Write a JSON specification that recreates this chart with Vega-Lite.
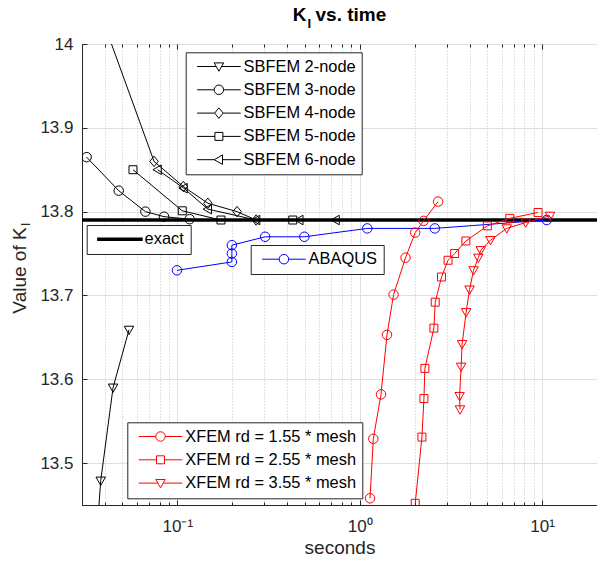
{
  "$schema": "https://vega.github.io/schema/vega-lite/v6.json",
  "width": 515,
  "height": 461,
  "autosize": {"type": "none"},
  "padding": {"left": 82, "top": 44, "right": 0, "bottom": 60},
  "background": "white",
  "title": {
    "text": "K\u2009 vs. time",
    "font": "Liberation Sans",
    "fontSize": 19,
    "fontWeight": "bold",
    "color": "black",
    "anchor": "middle",
    "offset": -8
  },
  "config": {
    "font": "Liberation Sans",
    "view": {"stroke": "#262626", "strokeWidth": 1},
    "axis": {
      "labelFont": "Liberation Sans",
      "titleFont": "Liberation Sans",
      "labelColor": "#262626",
      "titleColor": "#262626",
      "domainColor": "#262626",
      "tickColor": "#262626",
      "labelFontSize": 17,
      "titleFontSize": 19,
      "titleFontWeight": "normal",
      "gridColor": "#dfdfdf",
      "gridWidth": 1,
      "domainWidth": 1,
      "tickWidth": 1
    },
    "legend": {
      "labelFont": "Liberation Sans",
      "labelFontSize": 16.4,
      "labelColor": "black",
      "labelLimit": 400,
      "strokeColor": "#262626",
      "fillColor": "white",
      "padding": 6,
      "rowPadding": 6.3,
      "symbolSize": 90,
      "symbolFillColor": "transparent",
      "symbolOpacity": 1,
      "symbolOffset": 19,
      "labelOffset": 16.5
    }
  },
  "datasets": {
    "exact": [
      {"s": "exact", "t": 0.03, "k": 13.79, "o": 0},
      {"s": "exact", "t": 20, "k": 13.79, "o": 1}
    ],
    "sbfem": [
      {"s": "SBFEM 2-node", "t": 0.036, "k": 13.408, "o": 0},
      {"s": "SBFEM 2-node", "t": 0.038, "k": 13.479, "o": 1},
      {"s": "SBFEM 2-node", "t": 0.0444, "k": 13.59, "o": 2},
      {"s": "SBFEM 2-node", "t": 0.0543, "k": 13.659, "o": 3},
      {"s": "SBFEM 3-node", "t": 0.0318, "k": 13.865, "o": 0},
      {"s": "SBFEM 3-node", "t": 0.0477, "k": 13.825, "o": 1},
      {"s": "SBFEM 3-node", "t": 0.0668, "k": 13.8, "o": 2},
      {"s": "SBFEM 3-node", "t": 0.0845, "k": 13.794, "o": 3},
      {"s": "SBFEM 3-node", "t": 0.1168, "k": 13.791, "o": 4},
      {"s": "SBFEM 4-node", "t": 0.04, "k": 14.022, "o": 0},
      {"s": "SBFEM 4-node", "t": 0.0745, "k": 13.86, "o": 1},
      {"s": "SBFEM 4-node", "t": 0.1078, "k": 13.83, "o": 2},
      {"s": "SBFEM 4-node", "t": 0.147, "k": 13.81, "o": 3},
      {"s": "SBFEM 4-node", "t": 0.2125, "k": 13.8, "o": 4},
      {"s": "SBFEM 4-node", "t": 0.2706, "k": 13.79, "o": 5},
      {"s": "SBFEM 5-node", "t": 0.0571, "k": 13.85, "o": 0},
      {"s": "SBFEM 5-node", "t": 0.1064, "k": 13.801, "o": 1},
      {"s": "SBFEM 5-node", "t": 0.1734, "k": 13.79, "o": 2},
      {"s": "SBFEM 5-node", "t": 0.4295, "k": 13.79, "o": 3},
      {"s": "SBFEM 6-node", "t": 0.078, "k": 13.85, "o": 0},
      {"s": "SBFEM 6-node", "t": 0.1083, "k": 13.828, "o": 1},
      {"s": "SBFEM 6-node", "t": 0.147, "k": 13.803, "o": 2},
      {"s": "SBFEM 6-node", "t": 0.2706, "k": 13.79, "o": 3},
      {"s": "SBFEM 6-node", "t": 0.467, "k": 13.79, "o": 4},
      {"s": "SBFEM 6-node", "t": 0.738, "k": 13.79, "o": 5}
    ],
    "abaqus": [
      {"s": "ABAQUS", "t": 0.0995, "k": 13.73, "o": 0},
      {"s": "ABAQUS", "t": 0.199, "k": 13.74, "o": 1},
      {"s": "ABAQUS", "t": 0.199, "k": 13.75, "o": 2},
      {"s": "ABAQUS", "t": 0.199, "k": 13.76, "o": 3},
      {"s": "ABAQUS", "t": 0.303, "k": 13.77, "o": 4},
      {"s": "ABAQUS", "t": 0.497, "k": 13.77, "o": 5},
      {"s": "ABAQUS", "t": 1.1, "k": 13.78, "o": 6},
      {"s": "ABAQUS", "t": 2.58, "k": 13.78, "o": 7},
      {"s": "ABAQUS", "t": 10.6, "k": 13.79, "o": 8}
    ],
    "xfem": [
      {"s": "XFEM rd = 1.55 * mesh", "t": 1.139, "k": 13.458, "o": 0},
      {"s": "XFEM rd = 1.55 * mesh", "t": 1.187, "k": 13.529, "o": 1},
      {"s": "XFEM rd = 1.55 * mesh", "t": 1.308, "k": 13.582, "o": 2},
      {"s": "XFEM rd = 1.55 * mesh", "t": 1.411, "k": 13.653, "o": 3},
      {"s": "XFEM rd = 1.55 * mesh", "t": 1.533, "k": 13.701, "o": 4},
      {"s": "XFEM rd = 1.55 * mesh", "t": 1.783, "k": 13.745, "o": 5},
      {"s": "XFEM rd = 1.55 * mesh", "t": 2.015, "k": 13.775, "o": 6},
      {"s": "XFEM rd = 1.55 * mesh", "t": 2.24, "k": 13.789, "o": 7},
      {"s": "XFEM rd = 1.55 * mesh", "t": 2.69, "k": 13.812, "o": 8},
      {"s": "XFEM rd = 2.55 * mesh", "t": 2.015, "k": 13.452, "o": 0},
      {"s": "XFEM rd = 2.55 * mesh", "t": 2.193, "k": 13.531, "o": 1},
      {"s": "XFEM rd = 2.55 * mesh", "t": 2.249, "k": 13.577, "o": 2},
      {"s": "XFEM rd = 2.55 * mesh", "t": 2.277, "k": 13.613, "o": 3},
      {"s": "XFEM rd = 2.55 * mesh", "t": 2.551, "k": 13.661, "o": 4},
      {"s": "XFEM rd = 2.55 * mesh", "t": 2.594, "k": 13.692, "o": 5},
      {"s": "XFEM rd = 2.55 * mesh", "t": 2.808, "k": 13.722, "o": 6},
      {"s": "XFEM rd = 2.55 * mesh", "t": 3.05, "k": 13.742, "o": 7},
      {"s": "XFEM rd = 2.55 * mesh", "t": 3.316, "k": 13.75, "o": 8},
      {"s": "XFEM rd = 2.55 * mesh", "t": 3.82, "k": 13.765, "o": 9},
      {"s": "XFEM rd = 2.55 * mesh", "t": 5.01, "k": 13.783, "o": 10},
      {"s": "XFEM rd = 2.55 * mesh", "t": 6.65, "k": 13.792, "o": 11},
      {"s": "XFEM rd = 2.55 * mesh", "t": 9.5, "k": 13.799, "o": 12},
      {"s": "XFEM rd = 3.55 * mesh", "t": 3.545, "k": 13.564, "o": 0},
      {"s": "XFEM rd = 3.55 * mesh", "t": 3.53, "k": 13.58, "o": 1},
      {"s": "XFEM rd = 3.55 * mesh", "t": 3.597, "k": 13.615, "o": 2},
      {"s": "XFEM rd = 3.55 * mesh", "t": 3.643, "k": 13.642, "o": 3},
      {"s": "XFEM rd = 3.55 * mesh", "t": 3.833, "k": 13.68, "o": 4},
      {"s": "XFEM rd = 3.55 * mesh", "t": 4.0, "k": 13.707, "o": 5},
      {"s": "XFEM rd = 3.55 * mesh", "t": 4.21, "k": 13.73, "o": 6},
      {"s": "XFEM rd = 3.55 * mesh", "t": 4.47, "k": 13.745, "o": 7},
      {"s": "XFEM rd = 3.55 * mesh", "t": 4.61, "k": 13.754, "o": 8},
      {"s": "XFEM rd = 3.55 * mesh", "t": 5.21, "k": 13.766, "o": 9},
      {"s": "XFEM rd = 3.55 * mesh", "t": 6.4, "k": 13.78, "o": 10},
      {"s": "XFEM rd = 3.55 * mesh", "t": 8.13, "k": 13.787, "o": 11},
      {"s": "XFEM rd = 3.55 * mesh", "t": 11.05, "k": 13.795, "o": 12}
    ]
  },
  "resolve": {
    "scale": {"shape": "independent"},
    "axis": {"x": "independent", "y": "independent"},
    "legend": {"shape": "independent"}
  },
  "layer": [
    {
      "data": {"name": "exact"},
      "mark": {"type": "line", "color": "black", "strokeWidth": 3.5, "clip": true},
      "encoding": {
        "x": {"field": "t", "type": "quantitative", "scale": {"type": "log", "domain": [0.03, 20], "nice": false},
          "axis": {"orient": "bottom", "values": [0.1, 1, 10],
            "labelExpr": "datum.value < 0.5 ? '10\u207b\u00b9' : (datum.value < 5 ? '10\u2070' : '10\u00b9')",
            "grid": true, "tickSize": -5, "labelPadding": 18, "title": "seconds", "titlePadding": 4}},
        "y": {"field": "k", "type": "quantitative", "scale": {"domain": [13.45, 14], "nice": false, "zero": false},
          "axis": {"orient": "left", "values": [13.5, 13.6, 13.7, 13.8, 13.9, 14], "format": ".1~f",
            "grid": true, "tickSize": -5, "labelPadding": 14,
            "title": "Value of K", "titleX": -57, "titleY": 226, "titleAngle": -90, "titleAlign": "center", "titleBaseline": "alphabetic"}},
        "order": {"field": "o"}
      }
    },
    {
      "data": {"name": "sbfem"},
      "mark": {"type": "line", "color": "black", "strokeWidth": 1, "clip": true},
      "encoding": {
        "x": {"field": "t", "type": "quantitative", "scale": {"type": "log", "domain": [0.03, 20], "nice": false},
          "axis": {"orient": "bottom", "values": [0.03, 0.04, 0.05, 0.06, 0.07, 0.08, 0.09, 0.2, 0.3, 0.4, 0.5, 0.6, 0.7, 0.8, 0.9, 2, 3, 4, 5, 6, 7, 8, 9, 20],
            "labels": false, "grid": true, "gridDash": [1, 2], "gridColor": "#c4c4c4", "tickSize": -3, "domain": false, "title": null}},
        "y": {"field": "k", "type": "quantitative", "scale": {"domain": [13.45, 14], "nice": false, "zero": false}, "axis": null},
        "detail": {"field": "s"},
        "order": {"field": "o"}
      }
    },
    {
      "data": {"name": "sbfem"},
      "mark": {"type": "point", "filled": false, "color": "black", "strokeWidth": 1, "size": 90, "opacity": 1, "clip": true},
      "encoding": {
        "x": {"field": "t", "type": "quantitative", "scale": {"type": "log", "domain": [0.03, 20], "nice": false}, "axis": null},
        "y": {"field": "k", "type": "quantitative", "scale": {"domain": [13.45, 14], "nice": false, "zero": false}, "axis": null},
        "shape": {"field": "s", "type": "nominal", "legend": null,
          "scale": {"domain": ["SBFEM 2-node", "SBFEM 3-node", "SBFEM 4-node", "SBFEM 5-node", "SBFEM 6-node"],
            "range": ["M-1,-0.76L1,-0.76L0,1Z", "M1,0A1,1,0,1,1,-1,0A1,1,0,1,1,1,0Z", "M0,-1.1L0.9,0L0,1.1L-0.9,0Z", "M-0.84,-0.84H0.84V0.84H-0.84Z", "M-1,0L0.76,-1L0.76,1Z"]}}
      }
    },
    {
      "data": {"name": "abaqus"},
      "mark": {"type": "line", "color": "blue", "strokeWidth": 1, "clip": true},
      "encoding": {
        "x": {"field": "t", "type": "quantitative", "scale": {"type": "log", "domain": [0.03, 20], "nice": false}, "axis": null},
        "y": {"field": "k", "type": "quantitative", "scale": {"domain": [13.45, 14], "nice": false, "zero": false}, "axis": null},
        "order": {"field": "o"}
      }
    },
    {
      "data": {"name": "abaqus"},
      "mark": {"type": "point", "filled": false, "color": "blue", "strokeWidth": 1, "size": 90, "opacity": 1, "clip": true,
        "shape": "M1,0A1,1,0,1,1,-1,0A1,1,0,1,1,1,0Z"},
      "encoding": {
        "x": {"field": "t", "type": "quantitative", "scale": {"type": "log", "domain": [0.03, 20], "nice": false}, "axis": null},
        "y": {"field": "k", "type": "quantitative", "scale": {"domain": [13.45, 14], "nice": false, "zero": false}, "axis": null}
      }
    },
    {
      "data": {"name": "xfem"},
      "mark": {"type": "line", "color": "red", "strokeWidth": 1, "clip": true},
      "encoding": {
        "x": {"field": "t", "type": "quantitative", "scale": {"type": "log", "domain": [0.03, 20], "nice": false}, "axis": null},
        "y": {"field": "k", "type": "quantitative", "scale": {"domain": [13.45, 14], "nice": false, "zero": false}, "axis": null},
        "detail": {"field": "s"},
        "order": {"field": "o"}
      }
    },
    {
      "data": {"name": "xfem"},
      "mark": {"type": "point", "filled": false, "color": "red", "strokeWidth": 1, "size": 90, "opacity": 1, "clip": true},
      "encoding": {
        "x": {"field": "t", "type": "quantitative", "scale": {"type": "log", "domain": [0.03, 20], "nice": false}, "axis": null},
        "y": {"field": "k", "type": "quantitative", "scale": {"domain": [13.45, 14], "nice": false, "zero": false}, "axis": null},
        "shape": {"field": "s", "type": "nominal", "legend": null,
          "scale": {"domain": ["XFEM rd = 1.55 * mesh", "XFEM rd = 2.55 * mesh", "XFEM rd = 3.55 * mesh"],
            "range": ["M1,0A1,1,0,1,1,-1,0A1,1,0,1,1,1,0Z", "M-0.84,-0.84H0.84V0.84H-0.84Z", "M-1,-0.76L1,-0.76L0,1Z"]}}
      }
    },
    {
      "data": {"name": "exact"},
      "transform": [{"filter": "false"}],
      "mark": {"type": "point", "filled": false, "color": "black", "strokeWidth": 1, "size": 90},
      "encoding": {
        "x": {"field": "t", "type": "quantitative", "scale": {"type": "log", "domain": [0.03, 20], "nice": false},
          "axis": {"orient": "top", "values": [0.1, 1, 10], "labels": false, "grid": false, "tickSize": -5, "domain": false,
            "title": "I", "titleFontSize": 13, "titleFontWeight": "bold", "titleColor": "black",
            "titleX": 226.7, "titleY": -17, "titleAlign": "center", "titleBaseline": "alphabetic", "titleAngle": 0}},
        "y": {"field": "k", "type": "quantitative", "scale": {"domain": [13.45, 14], "nice": false, "zero": false}, "axis": null},
        "shape": {"field": "s", "type": "nominal",
          "scale": {"domain": ["SBFEM 2-node", "SBFEM 3-node", "SBFEM 4-node", "SBFEM 5-node", "SBFEM 6-node"],
            "range": ["M-4.6,0H-0.58M0.58,0H4.6M-1,-0.76L1,-0.76L0,1Z", "M-4.6,0H-1M1,0H4.6M1,0A1,1,0,1,1,-1,0A1,1,0,1,1,1,0Z", "M-4.6,0H-0.9M0.9,0H4.6M0,-1.1L0.9,0L0,1.1L-0.9,0Z", "M-4.6,0H-0.84M0.84,0H4.6M-0.84,-0.84H0.84V0.84H-0.84Z", "M-4.6,0H-1M0.76,0H4.6M-1,0L0.76,-1L0.76,1Z"]},
          "legend": {"orient": "none", "legendX": 103.7, "legendY": 8.3, "title": null, "direction": "vertical",
            "symbolStrokeColor": "black", "symbolStrokeWidth": 1}}
      }
    },
    {
      "data": {"name": "exact"},
      "transform": [{"filter": "false"}],
      "mark": {"type": "point", "filled": false, "color": "black", "strokeWidth": 3.5, "size": 90},
      "encoding": {
        "x": {"field": "t", "type": "quantitative", "scale": {"type": "log", "domain": [0.03, 20], "nice": false},
          "axis": {"orient": "top", "values": [0.03, 0.04, 0.05, 0.06, 0.07, 0.08, 0.09, 0.2, 0.3, 0.4, 0.5, 0.6, 0.7, 0.8, 0.9, 2, 3, 4, 5, 6, 7, 8, 9, 20],
            "labels": false, "grid": false, "tickSize": -3, "domain": false, "title": null}},
        "y": {"field": "k", "type": "quantitative", "scale": {"domain": [13.45, 14], "nice": false, "zero": false}, "axis": null},
        "shape": {"field": "s", "type": "nominal",
          "scale": {"domain": ["exact"], "range": ["M-4.8,0H4.8"]},
          "legend": {"orient": "none", "legendX": 4.7, "legendY": 181, "title": null,
            "symbolStrokeColor": "black", "symbolStrokeWidth": 3.5}}
      }
    },
    {
      "data": {"name": "exact"},
      "transform": [{"filter": "false"}],
      "mark": {"type": "point", "filled": false, "color": "blue", "strokeWidth": 1, "size": 90},
      "encoding": {
        "x": {"field": "t", "type": "quantitative", "scale": {"type": "log", "domain": [0.03, 20], "nice": false}, "axis": null},
        "y": {"field": "k", "type": "quantitative", "scale": {"domain": [13.45, 14], "nice": false, "zero": false},
          "axis": {"orient": "left", "labels": false, "ticks": false, "grid": false, "domain": false,
            "title": "I", "titleFontSize": 13, "titleX": -53, "titleY": 180, "titleAngle": -90, "titleAlign": "center", "titleBaseline": "alphabetic"}},
        "shape": {"field": "s", "type": "nominal",
          "scale": {"domain": ["ABAQUS"], "range": ["M-4.6,0H-1M1,0H4.6M1,0A1,1,0,1,1,-1,0A1,1,0,1,1,1,0Z"]},
          "legend": {"orient": "none", "legendX": 168.7, "legendY": 201, "title": null,
            "symbolStrokeColor": "blue", "symbolStrokeWidth": 1}}
      }
    },
    {
      "data": {"name": "exact"},
      "transform": [{"filter": "false"}],
      "mark": {"type": "point", "filled": false, "color": "red", "strokeWidth": 1, "size": 90},
      "encoding": {
        "x": {"field": "t", "type": "quantitative", "scale": {"type": "log", "domain": [0.03, 20], "nice": false}, "axis": null},
        "y": {"field": "k", "type": "quantitative", "scale": {"domain": [13.45, 14], "nice": false, "zero": false}, "axis": null},
        "shape": {"field": "s", "type": "nominal",
          "scale": {"domain": ["XFEM rd = 1.55 * mesh", "XFEM rd = 2.55 * mesh", "XFEM rd = 3.55 * mesh"],
            "range": ["M-4.6,0H-1M1,0H4.6M1,0A1,1,0,1,1,-1,0A1,1,0,1,1,1,0Z", "M-4.6,0H-0.84M0.84,0H4.6M-0.84,-0.84H0.84V0.84H-0.84Z", "M-4.6,0H-0.58M0.58,0H4.6M-1,-0.76L1,-0.76L0,1Z"]},
          "legend": {"orient": "none", "legendX": 45.3, "legendY": 378.3, "title": null, "direction": "vertical",
            "symbolStrokeColor": "red", "symbolStrokeWidth": 1}}
      }
    }
  ]
}
